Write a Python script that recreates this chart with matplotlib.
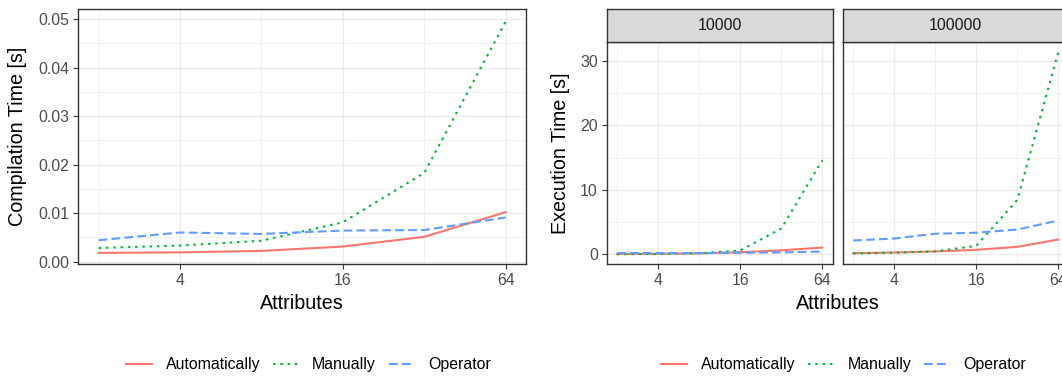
import matplotlib
matplotlib.use("Agg")
import matplotlib.pyplot as plt
from matplotlib.lines import Line2D
from matplotlib.ticker import FixedLocator, FixedFormatter, NullFormatter

plt.rcParams['font.family'] = ['Liberation Sans', 'DejaVu Sans']

# number of attributes (x axis, log2)
attributes = [2, 4, 8, 16, 32, 64]
x_ticks = [4, 16, 64]
x_labels = ["4", "16", "64"]
methods = ["Automatically", "Manually", "Operator"]

# compilation time [s]
compile_auto = [0.0018, 0.0019, 0.0022, 0.0031, 0.0051, 0.0102]
compile_manual = [0.0028, 0.0033, 0.0043, 0.0081, 0.0183, 0.0495]
compile_operator = [0.0044, 0.0060, 0.0057, 0.0064, 0.0065, 0.0091]

# execution time [s], one facet per row count
facets = ["10000", "100000"]
exec_auto = [[0.05, 0.08, 0.15, 0.32, 0.62, 1.05],
             [0.18, 0.28, 0.45, 0.70, 1.16, 2.30]]
exec_manual = [[0.02, 0.05, 0.15, 0.60, 4.0, 14.6],
               [0.13, 0.26, 0.45, 1.32, 8.45, 31.4]]
exec_operator = [[0.20, 0.20, 0.21, 0.25, 0.30, 0.43],
                 [2.15, 2.45, 3.20, 3.35, 3.85, 5.25]]

colors = ["#F8766D", "#00BA38", "#619CFF"]
dashes = ["-", (0, (1.2, 2.3)), (0, (4.2, 2.0))]
LW = 1.5

W, H = 1062, 378
fig = plt.figure(figsize=(W / 100, H / 100), dpi=100)


def box(x0, y0, x1, y1):
    # pixel box (top-left origin) -> figure fraction rect
    return [x0 / W, 1 - y1 / H, (x1 - x0) / W, (y1 - y0) / H]


def style_panel(ax, ylim, yticks, ylabels, yminor, show_y=True):
    ax.set_xscale('log', base=2)
    ax.set_xlim(2 ** 0.75, 2 ** 6.25)
    ax.set_ylim(*ylim)
    ax.xaxis.set_major_locator(FixedLocator(x_ticks))
    ax.xaxis.set_major_formatter(FixedFormatter(x_labels))
    ax.xaxis.set_minor_locator(FixedLocator([2, 8, 32]))
    ax.xaxis.set_minor_formatter(NullFormatter())
    ax.yaxis.set_major_locator(FixedLocator(yticks))
    ax.yaxis.set_major_formatter(FixedFormatter(ylabels))
    ax.yaxis.set_minor_locator(FixedLocator(yminor))
    ax.yaxis.set_minor_formatter(NullFormatter())
    ax.grid(which='major', color='#EBEBEB', lw=1.0)
    ax.grid(which='minor', color='#EBEBEB', lw=0.5)
    ax.set_axisbelow(True)
    ax.tick_params(which='minor', length=0)
    ax.tick_params(which='major', length=3.3, width=0.8, color='#333333',
                   labelsize=11.4, labelcolor='#4D4D4D', pad=3.5)
    ax.tick_params(axis='y', which='major', pad=3)
    if not show_y:
        ax.tick_params(axis='y', which='major', length=0, labelleft=False)
    for s in ax.spines.values():
        s.set_color('#333333')
        s.set_linewidth(1.0)


# left: compilation time
ax = fig.add_axes(box(78.3, 9, 526, 264))
for vals, c, d in zip([compile_auto, compile_manual, compile_operator], colors, dashes):
    ax.plot(attributes, vals, color=c, linestyle=d, lw=LW)
style_panel(ax, (-0.0005, 0.0521), [0, 0.01, 0.02, 0.03, 0.04, 0.05],
            ["0.00", "0.01", "0.02", "0.03", "0.04", "0.05"],
            [0.005, 0.015, 0.025, 0.035, 0.045])
fig.text(17.7 / W, 1 - 136.5 / H, "Compilation Time [s]", rotation=90,
         ha='center', va='center', fontsize=14.2)
fig.text(302 / W, 1 - 303.3 / H, "Attributes", ha='center', va='center', fontsize=14.2)

# right: execution time, faceted
panel_x = [(606.7, 832.6), (842.9, 1068.6)]
for i, name in enumerate(facets):
    x0, x1 = panel_x[i]
    ax = fig.add_axes(box(x0, 42, x1, 264))
    for vals, c, d in zip([exec_auto[i], exec_manual[i], exec_operator[i]], colors, dashes):
        ax.plot(attributes, vals, color=c, linestyle=d, lw=LW)
    style_panel(ax, (-1.5, 32.95), [0, 10, 20, 30], ["0", "10", "20", "30"],
                [5, 15, 25], show_y=(i == 0))

    strip = fig.add_axes(box(x0, 8.7, x1, 42))
    strip.set_facecolor('#D9D9D9')
    strip.set_xticks([])
    strip.set_yticks([])
    for s in strip.spines.values():
        s.set_color('#333333')
        s.set_linewidth(1.0)
    strip.text(0.5, 0.5, name, ha='center', va='center', fontsize=11.4,
               color='#1A1A1A', transform=strip.transAxes)

fig.text(561 / W, 1 - 153 / H, "Execution Time [s]", rotation=90,
         ha='center', va='center', fontsize=14.2)
fig.text(837.6 / W, 1 - 303.3 / H, "Attributes", ha='center', va='center', fontsize=14.2)

# legends under each plot
handles = [Line2D([], [], color=c, linestyle=d, lw=LW) for c, d in zip(colors, dashes)]
for cx in [308.5, 843.7]:
    fig.legend(handles, methods, loc='center', bbox_to_anchor=(cx / W, 1 - 365 / H),
               ncol=3, frameon=False, fontsize=11.4, handlelength=1.65,
               handletextpad=0.84, columnspacing=0.8)

fig.savefig("out.png", dpi=100)
